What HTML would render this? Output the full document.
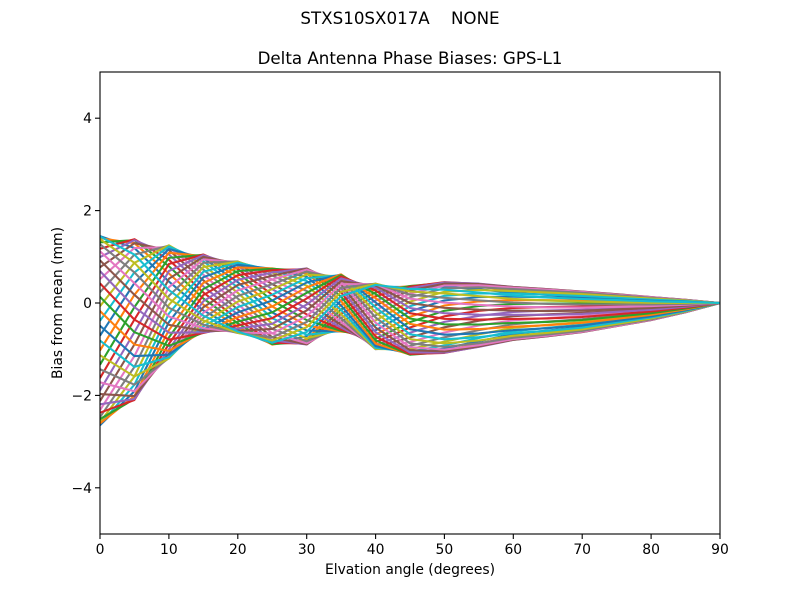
<!DOCTYPE html>
<html><head><meta charset="utf-8"><style>
html,body{margin:0;padding:0;background:#fff;}
svg{display:block;}
text{font-family:"DejaVu Sans","Liberation Sans",sans-serif;fill:#000;}
</style></head><body>
<svg id="s" width="800" height="600" viewBox="0 0 800 600" xmlns="http://www.w3.org/2000/svg">
<rect width="800" height="600" fill="#fff"/>
<defs><clipPath id="c"><rect x="100" y="72" width="620" height="462"/></clipPath></defs>
<g id="lines" clip-path="url(#c)" fill="none" stroke-width="2.08" stroke-linejoin="round"></g>
<rect x="100" y="72" width="620" height="462" fill="none" stroke="#000" stroke-width="1.1"/>
<g stroke="#000" stroke-width="1.1">
<line x1="100" y1="534" x2="100" y2="539"/><line x1="168.9" y1="534" x2="168.9" y2="539"/><line x1="237.8" y1="534" x2="237.8" y2="539"/><line x1="306.7" y1="534" x2="306.7" y2="539"/><line x1="375.6" y1="534" x2="375.6" y2="539"/><line x1="444.4" y1="534" x2="444.4" y2="539"/><line x1="513.3" y1="534" x2="513.3" y2="539"/><line x1="582.2" y1="534" x2="582.2" y2="539"/><line x1="651.1" y1="534" x2="651.1" y2="539"/><line x1="720" y1="534" x2="720" y2="539"/>
<line x1="95" y1="118.2" x2="100" y2="118.2"/><line x1="95" y1="210.6" x2="100" y2="210.6"/><line x1="95" y1="303" x2="100" y2="303"/><line x1="95" y1="395.4" x2="100" y2="395.4"/><line x1="95" y1="487.8" x2="100" y2="487.8"/>
</g>
<g font-size="13.9px" text-anchor="middle">
<text x="100" y="554">0</text><text x="168.9" y="554">10</text><text x="237.8" y="554">20</text><text x="306.7" y="554">30</text><text x="375.6" y="554">40</text><text x="444.4" y="554">50</text><text x="513.3" y="554">60</text><text x="582.2" y="554">70</text><text x="651.1" y="554">80</text><text x="720" y="554">90</text>
</g>
<g font-size="13.9px" text-anchor="end">
<text x="92" y="123.2">4</text><text x="92" y="215.6">2</text><text x="92" y="308">0</text><text x="92" y="400.4">−2</text><text x="92" y="492.8">−4</text>
</g>
<text x="410" y="574" font-size="13.9px" text-anchor="middle">Elvation angle (degrees)</text>
<text transform="translate(62,303) rotate(-90)" font-size="13.9px" text-anchor="middle">Bias from mean (mm)</text>
<text x="410" y="64" font-size="16.7px" text-anchor="middle">Delta Antenna Phase Biases: GPS-L1</text>
<text x="400" y="24" font-size="16.7px" text-anchor="middle" xml:space="preserve">STXS10SX017A    NONE</text>
</svg>
<script>
(function(){
var top=[1.45,1.38,1.25,1.05,0.9,0.75,0.75,0.62,0.42,0.37,0.45,0.42,0.35,0.3,0.25,0.19,0.13,0.07,0];
var bot=[-2.65,-2.1,-1.2,-0.65,-0.65,-0.9,-0.9,-0.62,-1.0,-1.12,-1.08,-0.95,-0.8,-0.72,-0.63,-0.5,-0.37,-0.2,0];
var ph=[0,30,72,118,158,192,222,278,338,378,392,398,402,404,405,405,405,405,405];
var cols=["#1f77b4","#ff7f0e","#2ca02c","#d62728","#9467bd","#8c564b","#e377c2","#7f7f7f","#bcbd22","#17becf"];
var g=document.getElementById("lines");
var ns="http://www.w3.org/2000/svg";
for(var k=0;k<40;k++){
  var az=3+k*9;
  var d="";
  for(var i=0;i<19;i++){
    var e=i*5;
    var B=(top[i]+bot[i])/2, A=(top[i]-bot[i])/2;
    var v=B+A*Math.cos((az-ph[i])*Math.PI/180);
    var x=100+e*620/90, y=303-46.2*v;
    d+=(i?"L":"M")+x.toFixed(1)+","+y.toFixed(1);
  }
  var p=document.createElementNS(ns,"path");
  p.setAttribute("d",d);
  p.setAttribute("stroke",cols[k%10]);
  g.appendChild(p);
}
})();
</script>
</body></html>
